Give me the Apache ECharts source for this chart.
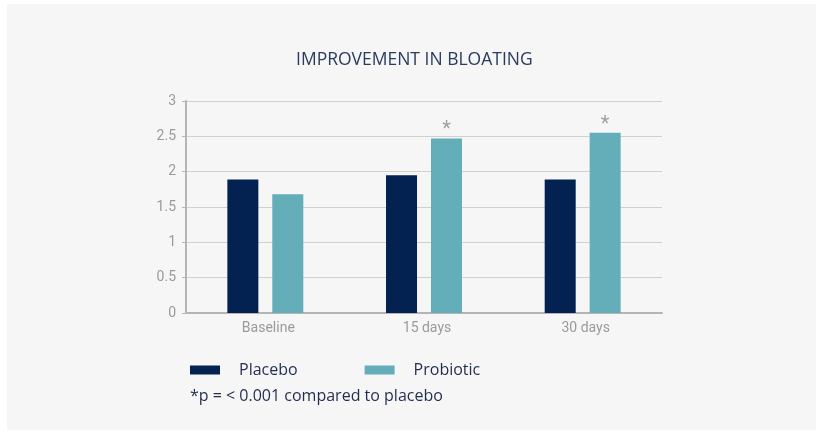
<!DOCTYPE html>
<html><head><meta charset="utf-8">
<script src="https://cdn.jsdelivr.net/npm/echarts@6/dist/echarts.min.js"></script>
<style>html,body{margin:0;padding:0;background:#fff}#c{width:818px;height:432px}</style>
</head><body><div id="c"></div>
<script>
const categories = ['Baseline', '15 days', '30 days'];
const placebo = [1.89, 1.95, 1.89];
const probiotic = [1.68, 2.47, 2.55];
const significant = [false, true, true];
const yTicks = [0, 0.5, 1, 1.5, 2, 2.5, 3];
const titleText = 'IMPROVEMENT IN BLOATING';
const footnote = '*p = < 0.001 compared to placebo';

const chart = echarts.init(document.getElementById('c'));
chart.setOption({
  backgroundColor: '#ffffff',
  graphic: [
    {type: 'rect', shape: {x: 7, y: 4, width: 809, height: 426}, style: {fill: '#f6f6f6'}, z: -10},
    {type: 'text', left: 190, top: 388, style: {text: footnote, fill: '#1f2d4e', font: '16px "Open Sans"'}}
  ],
  title: {
    text: titleText, left: 291, top: 46,
    textStyle: {color: '#2b3b5c', fontFamily: 'Open Sans', fontSize: 17.5, fontWeight: 'normal'}
  },
  legend: {
    left: 190, top: 362, padding: 0,
    itemWidth: 30, itemHeight: 9, itemGap: 67,
    icon: 'rect',
    textStyle: {color: '#1f2d4e', fontFamily: 'Open Sans', fontSize: 16, padding: [0, 0, 0, 14]},
    data: ['Placebo', 'Probiotic']
  },
  grid: {left: 186, right: 156, top: 101, bottom: 119},
  xAxis: {
    type: 'category', data: categories,
    axisLine: {lineStyle: {color: '#b5b5b5', width: 2}},
    axisTick: {show: false},
    axisLabel: {color: '#9a9a9a', fontFamily: 'Roboto', fontSize: 14, margin: 8, padding: [0, 0, 0, 6]}
  },
  yAxis: {
    type: 'value', min: 0, max: 3, interval: 0.5,
    axisLine: {show: true, lineStyle: {color: '#b5b5b5', width: 2}},
    axisTick: {show: true, length: 4, lineStyle: {color: '#b5b5b5'}},
    axisLabel: {color: '#9a9a9a', fontFamily: 'Roboto', fontSize: 14, margin: 10,
      formatter: v => yTicks.includes(v) ? String(v) : ''},
    splitLine: {lineStyle: {color: '#d0d0d0', width: 1}}
  },
  series: [
    {name: 'Placebo', type: 'bar', data: placebo, barWidth: 31, barGap: '45%',
      itemStyle: {color: '#032252'}},
    {name: 'Probiotic', type: 'bar', data: probiotic.map((v, i) => ({
        value: v,
        label: {show: significant[i], position: 'top', formatter: '*', color: '#a0a0a0',
          fontSize: 20, fontFamily: 'Roboto', distance: -2}
      })), barWidth: 31,
      itemStyle: {color: '#63aeb8'}}
  ]
});
</script></body></html>
